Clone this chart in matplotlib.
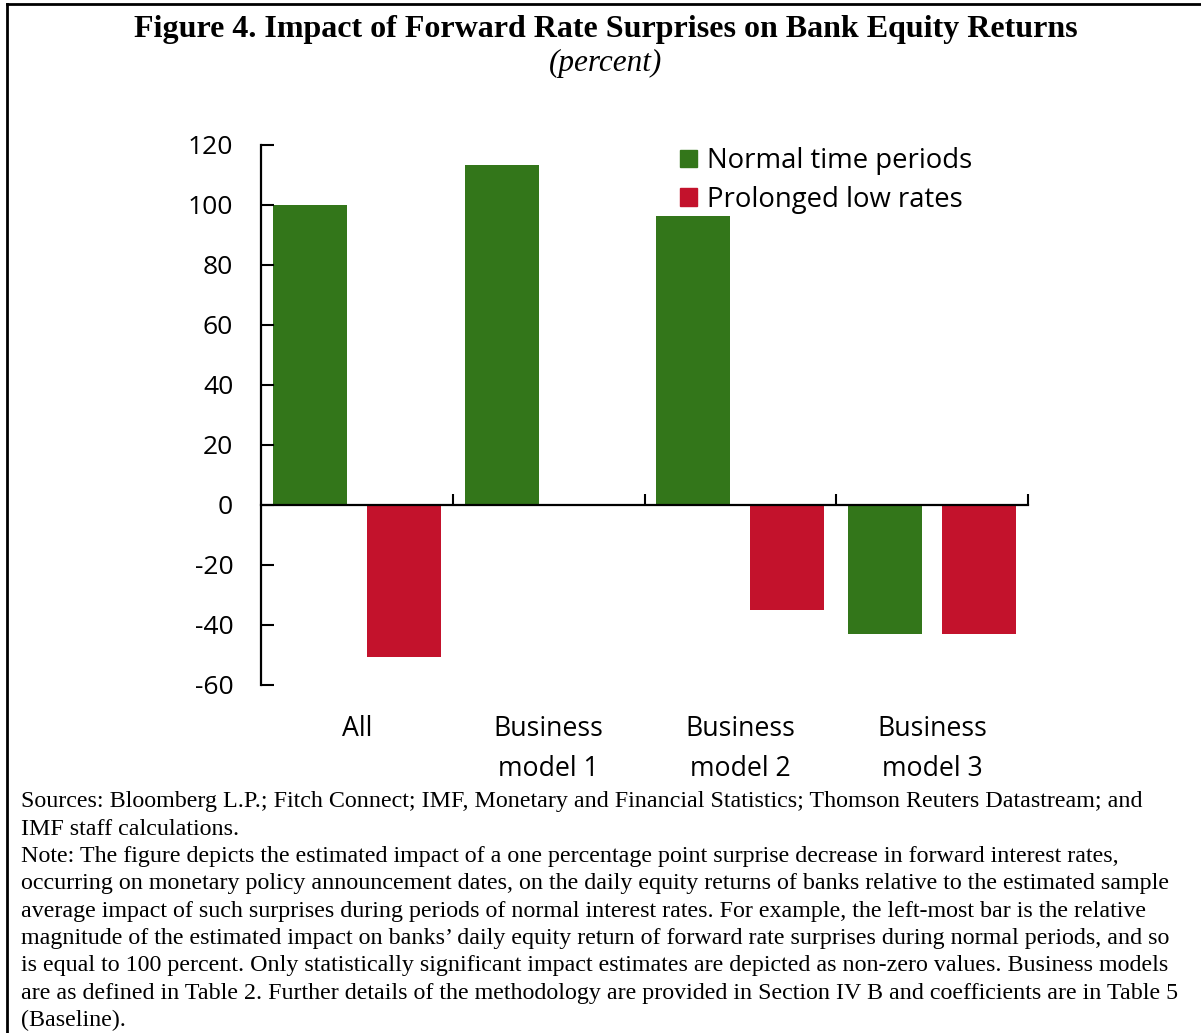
import matplotlib
matplotlib.use("Agg")
import matplotlib.pyplot as plt
from matplotlib.patches import Patch
from matplotlib.lines import Line2D
import numpy as np

# data
categories = ["All", "Business\nmodel 1", "Business\nmodel 2", "Business\nmodel 3"]
normal = [100, 113.5, 96.5, -43]
prolonged = [-50.5, 0, -35, -43]
series_names = ["Normal time periods", "Prolonged low rates"]
yticks = [120, 100, 80, 60, 40, 20, 0, -20, -40, -60]

green = "#33761a"
red = "#c3122c"
sans = ["Open Sans", "DejaVu Sans"]
serif = ["Liberation Serif", "DejaVu Serif"]

fig = plt.figure(figsize=(12.01, 10.33), dpi=100)
ax = fig.add_axes([261 / 1201, 1 - 685 / 1033, (1028 - 261) / 1201, (685 - 145) / 1033])

x = np.arange(len(categories))
w = 0.385
off = 0.245
ax.bar(x - off, normal, w, color=green, label=series_names[0])
ax.bar(x + off, prolonged, w, color=red, label=series_names[1])

ax.set_xlim(-0.5, len(categories) - 0.5)
ax.set_ylim(min(yticks), max(yticks))

for s in ["top", "right"]:
    ax.spines[s].set_visible(False)
ax.spines["left"].set_linewidth(1.6)
ax.spines["bottom"].set_position(("data", 0))
ax.spines["bottom"].set_linewidth(1.6)

ax.set_yticks(yticks)
ax.set_yticklabels([str(v) for v in yticks], fontfamily=sans, fontsize=19)
ax.tick_params(axis="y", direction="in", length=9, width=1.5, pad=20)

# category boundaries as upward ticks on the zero line
ax.set_xticks(np.arange(len(categories)) + 0.5)
ax.set_xticklabels([])
ax.tick_params(axis="x", direction="in", length=8, width=1.5)

for i, c in enumerate(categories):
    ax.text(i, -0.056, c, transform=ax.get_xaxis_transform(), ha="center", va="top",
            fontfamily=sans, fontsize=19.2, linespacing=1.55)

handles = [Patch(color=green), Patch(color=red)]
leg = ax.legend(handles, series_names, loc="upper left", bbox_to_anchor=(0.546, 0.996),
                frameon=False, prop={"family": sans, "size": 19.8},
                handlelength=0.62, handleheight=0.62, handletextpad=0.38, labelspacing=0.38,
                borderpad=0, borderaxespad=0)

fig.text(606 / 1201, 1 - 29 / 1033, "Figure 4. Impact of Forward Rate Surprises on Bank Equity Returns",
         ha="center", va="center", fontfamily=serif, fontweight="bold", fontsize=23)
fig.text(606 / 1201, 1 - 63 / 1033, "(percent)", ha="center", va="center",
         fontfamily=serif, fontstyle="italic", fontsize=22.5)

notes = [
    "Sources: Bloomberg L.P.; Fitch Connect; IMF, Monetary and Financial Statistics; Thomson Reuters Datastream; and",
    "IMF staff calculations.",
    "Note: The figure depicts the estimated impact of a one percentage point surprise decrease in forward interest rates,",
    "occurring on monetary policy announcement dates, on the daily equity returns of banks relative to the estimated sample",
    "average impact of such surprises during periods of normal interest rates. For example, the left-most bar is the relative",
    "magnitude of the estimated impact on banks\u2019 daily equity return of forward rate surprises during normal periods, and so",
    "is equal to 100 percent. Only statistically significant impact estimates are depicted as non-zero values. Business models",
    "are as defined in Table 2. Further details of the methodology are provided in Section IV B and coefficients are in Table 5",
    "(Baseline).",
]
for i, line in enumerate(notes):
    fig.text(21 / 1201, 1 - (802 + i * 27.3) / 1033, line, ha="left", va="center",
             fontfamily=serif, fontsize=17.25)

# frame lines at left and top
fig.add_artist(Line2D([7 / 1201, 7 / 1201], [0, 1 - 4 / 1033], color="black", lw=2))
fig.add_artist(Line2D([7 / 1201, 1], [1 - 4 / 1033, 1 - 4 / 1033], color="black", lw=2))

fig.savefig("out.png", dpi=100)
